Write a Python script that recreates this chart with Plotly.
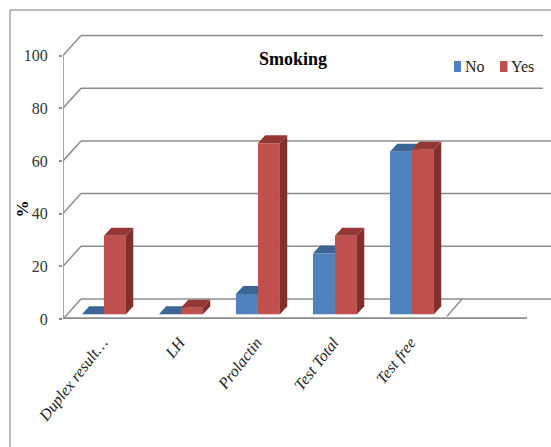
import plotly.graph_objects as go

# Chart data
categories = ["Duplex result…", "LH", "Prolactin", "Test Total", "Test free"]
no_values = [0, 0, 7.7, 23.1, 61.7]
yes_values = [29.8, 2.5, 64.9, 29.8, 62.4]
y_ticks = [0, 20, 40, 60, 80, 100]

# Figure and plot-area geometry
WIDTH, HEIGHT = 551, 447
LEFT, TOP, BOTTOM = 63, 9, 319
CAT_PX = 77.0
UNIT_PX = 2.635
X_RANGE = [-0.5, (WIDTH - LEFT) / CAT_PX - 0.5]
Y_RANGE = [0, (BOTTOM - TOP) / UNIT_PX]

# Oblique depth of the wall and of the bars, in axis units
WALL_DX, WALL_DY = 18 / CAT_PX, 20 / UNIT_PX
BAR_DX, BAR_DY = 7.3 / CAT_PX, 8 / UNIT_PX
BAR_W = 22 / CAT_PX
BAR_SHIFT = 0.032
FLOOR = 1.8

GRID = "#8c8c8c"
FRAME = "#a6a6a6"
SERIF = "Liberation Serif"
NO_FRONT, NO_TOP, NO_SIDE = "#4f81bd", "#3c6595", "#335680"
YES_FRONT, YES_TOP, YES_SIDE = "#c0504d", "#953735", "#7f302e"


def line(x0, y0, x1, y1, width=1.5, color=GRID):
    return dict(type="line", layer="below", xref="x", yref="y",
                x0=x0, y0=y0, x1=x1, y1=y1, line=dict(color=color, width=width))


def poly(points, color):
    path = "M" + " L".join(f"{x:.4f},{y:.4f}" for x, y in points) + " Z"
    return dict(type="path", layer="below", xref="x", yref="y", path=path,
                fillcolor=color, line=dict(width=0))


def depth_faces(values, offset, top_color, side_color):
    """Top and side faces that give each front bar its oblique depth."""
    faces = []
    for i, v in enumerate(values):
        x0 = i + BAR_SHIFT + offset
        x1 = x0 + BAR_W
        t = FLOOR + v
        faces.append(poly([(x1, FLOOR), (x1, t), (x1 + BAR_DX, t + BAR_DY),
                           (x1 + BAR_DX, FLOOR + BAR_DY)], side_color))
        faces.append(poly([(x0, t), (x1, t), (x1 + BAR_DX, t + BAR_DY),
                           (x0 + BAR_DX, t + BAR_DY)], top_color))
    return faces


shapes = []

# Back wall gridlines and their diagonals down to the front axis
wall_left = X_RANGE[0] + WALL_DX
for tick in y_ticks:
    end = (543 - LEFT) / CAT_PX - 0.5 if tick >= 80 else X_RANGE[1]
    shapes.append(line(wall_left, tick + WALL_DY, end, tick + WALL_DY))
    shapes.append(line(X_RANGE[0], tick, wall_left, tick + WALL_DY))

# Front axis lines and the visible bit of the floor's right edge
shapes.append(line(X_RANGE[0], 0, X_RANGE[0], 100))
shapes.append(line(X_RANGE[0], 0.3, 5.5, 0.3, width=2))
shapes.append(line(5.5, 0, 5.5 + 2 / CAT_PX, 2 / UNIT_PX))
shapes.append(line((447 - LEFT) / CAT_PX - 0.5, 1, (462 - LEFT) / CAT_PX - 0.5, WALL_DY))

shapes += depth_faces(no_values, -BAR_W, NO_TOP, NO_SIDE)
shapes += depth_faces(yes_values, 0, YES_TOP, YES_SIDE)

# Chart frame, open on the right and at the bottom
px_x = lambda px: (px - LEFT) / (WIDTH - LEFT)
px_y = lambda px: (BOTTOM - px) / (BOTTOM - TOP)
for x0, y0, x1, y1 in [(10, 10, 551, 10), (10, 10, 10, 447)]:
    shapes.append(dict(type="line", xref="paper", yref="paper",
                       x0=px_x(x0), y0=px_y(y0), x1=px_x(x1), y1=px_y(y1),
                       line=dict(color=FRAME, width=1.5)))

# Legend swatches
for x0, x1, color in [(454, 461, NO_FRONT), (500, 507.5, YES_FRONT)]:
    shapes.append(dict(type="rect", xref="paper", yref="paper",
                       x0=px_x(x0), x1=px_x(x1), y0=px_y(72), y1=px_y(61),
                       fillcolor=color, line=dict(width=0)))

fig = go.Figure()
x_pos = [i + BAR_SHIFT for i in range(len(categories))]
for name, values, offset, color in [("No", no_values, -BAR_W, NO_FRONT),
                                    ("Yes", yes_values, 0, YES_FRONT)]:
    fig.add_trace(go.Bar(name=name, x=x_pos, y=values, base=FLOOR, width=BAR_W,
                         offset=offset, marker=dict(color=color, line=dict(width=0))))

annotations = [
    dict(text=label, xref="paper", yref="paper", x=px_x(px), y=px_y(66),
         xanchor="left", yanchor="middle", showarrow=False,
         font=dict(family=SERIF, size=16, color="#222222"))
    for label, px in [("No", 462.5), ("Yes", 509)]
]

# Value-axis title
annotations.append(dict(text="<b>%</b>", xref="paper", yref="paper", x=px_x(21.5), y=px_y(209),
                        xanchor="center", yanchor="middle", showarrow=False, textangle=-90,
                        font=dict(family=SERIF, size=17, color="black")))

fig.update_layout(
    width=WIDTH, height=HEIGHT,
    margin=dict(l=LEFT, r=0, t=TOP, b=HEIGHT - BOTTOM, autoexpand=False),
    paper_bgcolor="white", plot_bgcolor="white",
    barmode="overlay", showlegend=False,
    shapes=shapes, annotations=annotations,
    title=dict(text="<b>Smoking</b>", x=293 / WIDTH, xanchor="center",
               y=1 - 59 / HEIGHT, yanchor="middle",
               font=dict(family=SERIF, size=18, color="black")),
    xaxis=dict(range=X_RANGE, showgrid=False, zeroline=False, showline=False,
               tickmode="array", tickvals=[i + 0.01 for i in range(len(categories))],
               ticktext=[f"<i>{c}</i>" for c in categories], tickangle=-52, ticks="",
               ticklabelstandoff=10,
               tickfont=dict(family=SERIF, size=16, color="#222222")),
    yaxis=dict(range=Y_RANGE, showgrid=False, zeroline=False, showline=False,
               tickmode="array", tickvals=y_ticks, ticks="outside", ticklen=3,
               tickcolor=GRID, tickwidth=1.5, ticklabelstandoff=8,
               tickfont=dict(family=SERIF, size=16, color="#333333")),
)

fig.write_html("out.html")
